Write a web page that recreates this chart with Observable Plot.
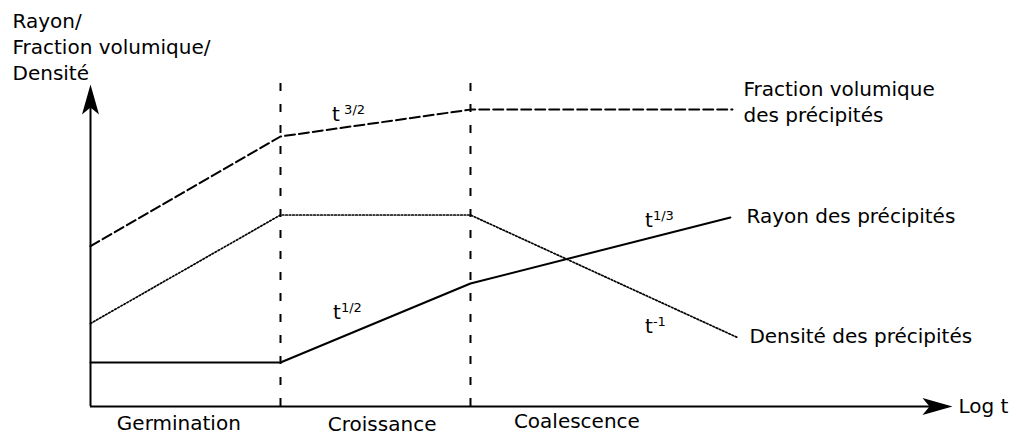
<!DOCTYPE html>
<html>
<head>
<meta charset="utf-8">
<script src="https://cdn.jsdelivr.net/npm/d3@7"></script>
<script src="https://cdn.jsdelivr.net/npm/@observablehq/plot@0.6"></script>
<style>
  html, body { margin: 0; padding: 0; background: white; }
</style>
</head>
<body>
<div id="chart"></div>
<script>
// ---- Data (schematic, arbitrary units: x = log t in phase units, y = magnitude) ----
const phaseBounds = [1, 2];
const phaseNames = ["Germination", "Croissance", "Coalescence"];
const phaseLabelX = [0.465, 1.535, 2.56];
const phaseLabelY = [-0.72, -0.76, -0.66];

const fractionX = [0, 1, 2, 3.379];
const fractionY = [4.98, 8.385, 9.22, 9.22];

const rayonX = [0, 1, 2, 3.368];
const rayonY = [1.366, 1.366, 3.82, 5.87];

const densiteX = [0, 1, 2, 3.405];
const densiteY = [2.578, 5.947, 5.947, 2.143];

const seriesLabels = ["Fraction volumique\ndes précipités", "Rayon des précipités", "Densité des précipités"];
const seriesLabelX = [3.437, 3.453, 3.468];
const seriesLabelY = [8.82, 5.714, 1.957];

const exponentBase = ["t", "t", "t", "t"];
const exponentText = ["\u00a03/2", "1/2", "1/3", "-1"];
const exponentX = [1.271, 1.276, 2.918, 2.918];
const exponentY = [8.851, 2.702, 5.590, 2.298];

const yTitle = "Rayon/\nFraction volumique/\nDensité";
const xTitle = "Log t";

const xMax = 4.537;
const yMax = 10;
const boundaryTop = 10.4;

// ---- Arrowhead symbol (filled, notched), tip at origin, pointing right ----
const arrowHead = {
  draw(ctx) {
    ctx.moveTo(0, 0);
    ctx.lineTo(-30, -8.5);
    ctx.lineTo(-23, 0);
    ctx.lineTo(-30, 8.5);
    ctx.closePath();
  }
};

const font = "DejaVu Sans";

const chart = Plot.plot({
  width: 1016,
  height: 435,
  marginLeft: 90,
  marginRight: 64,
  marginTop: 84,
  marginBottom: 29,
  x: {domain: [0, xMax], axis: null},
  y: {domain: [0, yMax], axis: null},
  style: {background: "white", color: "black"},
  marks: [
    // phase boundaries
    Plot.ruleX(phaseBounds, {y1: 0, y2: boundaryTop, strokeWidth: 2, strokeDasharray: "8,13"}),
    // axes
    Plot.ruleY([0], {x1: 0, x2: xMax - 0.1, strokeWidth: 2}),
    Plot.ruleX([0], {y1: 0, y2: yMax - 0.5, strokeWidth: 2}),
    Plot.dot([0], {x: xMax, y: 0, symbol: arrowHead, fill: "black", stroke: "none"}),
    Plot.dot([0], {x: 0, y: yMax, symbol: arrowHead, fill: "black", stroke: "none", rotate: -90}),
    // series
    Plot.line(fractionX, {x: fractionX, y: fractionY, strokeWidth: 2, strokeDasharray: "10,4"}),
    Plot.line(densiteX, {x: densiteX, y: densiteY, strokeWidth: 1.7, strokeDasharray: "1.6,1.9"}),
    Plot.line(rayonX, {x: rayonX, y: rayonY, strokeWidth: 2}),
    // series labels
    Plot.text(seriesLabels, {x: seriesLabelX, y: seriesLabelY, text: d => d, textAnchor: "start", lineAnchor: "bottom", lineHeight: 1.3, fontSize: 20, fontFamily: font}),
    // power-law annotations
    Plot.text(exponentBase, {x: exponentX, y: exponentY, text: d => d, textAnchor: "start", lineAnchor: "bottom", fontSize: 20, fontFamily: font}),
    Plot.text(exponentText, {x: exponentX, y: exponentY, text: d => d, textAnchor: "start", lineAnchor: "bottom", dx: 8, dy: -7, fontSize: 13, fontFamily: font}),
    // phase labels
    Plot.text(phaseNames, {x: phaseLabelX, y: phaseLabelY, text: d => d, textAnchor: "middle", lineAnchor: "bottom", fontSize: 20, fontFamily: font}),
    // axis titles
    Plot.text([yTitle], {frameAnchor: "top-left", text: d => d, textAnchor: "start", lineAnchor: "bottom", lineHeight: 1.3, dx: -78, dy: -5, fontSize: 20, fontFamily: font}),
    Plot.text([xTitle], {frameAnchor: "bottom-right", text: d => d, textAnchor: "start", lineAnchor: "bottom", dx: 6, dy: 6, fontSize: 20, fontFamily: font})
  ]
});

document.getElementById("chart").appendChild(chart);
</script>
</body>
</html>
